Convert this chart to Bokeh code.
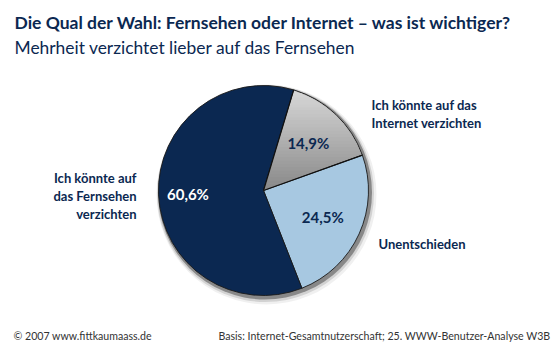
import numpy as np
from bokeh.plotting import figure
from bokeh.models import Range1d
from bokeh.core.properties import value
from bokeh.embed import file_html
from bokeh.resources import INLINE

# ---- data ----
categories = ["Ich könnte auf das Internet verzichten", "Unentschieden", "Ich könnte auf das Fernsehen verzichten"]
shares = [14.9, 24.5, 60.6]
pct_labels = ["14,9%", "24,5%", "60,6%"]
colors = ["#aaaaaa", "#a7c8e1", "#0b2851"]
pct_colors = ["#0b2851", "#0b2851", "#ffffff"]
title = "Die Qual der Wahl: Fernsehen oder Internet – was ist wichtiger?"
subtitle = "Mehrheit verzichtet lieber auf das Fernsehen"
footer_left = "© 2007 www.fittkaumaass.de"
footer_right = "Basis: Internet-Gesamtnutzerschaft; 25. WWW-Benutzer-Analyse W3B"

W, H = 560, 350
NAVY = "#0b2851"
FONT = value("Lato")

p = figure(width=W, height=H, output_backend="svg", toolbar_location=None,
           x_range=Range1d(0, W), y_range=Range1d(0, H), min_border=0)
p.axis.visible = False
p.grid.visible = False
p.outline_line_color = None
p.background_fill_color = "white"
p.border_fill_color = "white"

def Y(py):
    return H - py

cx, cy, r = 263, Y(190), 105
start_deg = 90 - 16.7  # start of first slice, clockwise

# shadow
for dr, dx, dy, a in [(5, 3, -4, 0.06), (3.5, 2, -3, 0.12), (2, 1.5, -2, 0.35)]:
    p.circle(x=[cx + dx], y=[cy + dy], radius=r + dr, radius_units="screen",
             fill_color="black", fill_alpha=a, line_color=None)

fr = np.array(shares) / sum(shares)
ends = start_deg - 360 * np.cumsum(fr)
starts = np.concatenate([[start_deg], ends[:-1]])
mids = (starts + ends) / 2

for i in range(3):
    p.wedge(x=[cx], y=[cy], radius=r, radius_units="screen",
            start_angle=[np.deg2rad(starts[i])], end_angle=[np.deg2rad(ends[i])],
            direction="clock", fill_color=colors[i], line_color="#1a1a1a", line_width=0.9)

# gray slice gradient: wedge polygon clipped into horizontal bands
ang = np.deg2rad(np.linspace(starts[0] - 0.3, ends[0] + 0.6, 60))
poly = [(cx, cy)] + [(cx + (r - 0.8) * np.cos(a), cy + (r - 0.8) * np.sin(a)) for a in ang]

def clip(poly, y0, y1):
    def clip_half(pts, yl, keep_above):
        out = []
        n = len(pts)
        for k in range(n):
            P, Q = pts[k], pts[(k + 1) % n]
            inP = (P[1] >= yl) if keep_above else (P[1] <= yl)
            inQ = (Q[1] >= yl) if keep_above else (Q[1] <= yl)
            if inP:
                out.append(P)
            if inP != inQ:
                t = (yl - P[1]) / (Q[1] - P[1])
                out.append((P[0] + t * (Q[0] - P[0]), yl))
        return out
    pts = clip_half(poly, y0, True)
    if pts:
        pts = clip_half(pts, y1, False)
    return pts

ys = [q[1] for q in poly]
ylo, yhi = min(ys), max(ys)
nb = 30
top_c, bot_c = np.array([0xd8, 0xd8, 0xd8]), np.array([0x88, 0x88, 0x88])
for b in range(nb):
    y0 = ylo + (yhi - ylo) * b / nb
    y1 = ylo + (yhi - ylo) * (b + 1) / nb + 0.6
    pts = clip(poly, y0, y1)
    if len(pts) < 3:
        continue
    t = (b + 0.5) / nb
    c = bot_c + (top_c - bot_c) * t
    col = "#%02x%02x%02x" % tuple(int(v) for v in c)
    p.patch(x=[q[0] for q in pts], y=[q[1] for q in pts], fill_color=col, line_color=None)

# dark shadow edges on gray slice
for a_deg in [starts[0], ends[0]]:
    a = np.deg2rad(a_deg)
    p.line(x=[cx, cx + r * np.cos(a)], y=[cy, cy + r * np.sin(a)], line_color="#111111", line_width=1.2)

# percentage labels
pr = [0.62, 0.62, 0.72]
px = [cx + pr[i] * r * np.cos(np.deg2rad(mids[i])) for i in range(3)]
py = [cy + pr[i] * r * np.sin(np.deg2rad(mids[i])) for i in range(3)]
for i in range(3):
    p.text(x=[px[i]], y=[py[i]], text=[pct_labels[i]], text_font=FONT, text_font_style="bold",
           text_font_size="15px", text_color=pct_colors[i], text_align="center", text_baseline="middle")

# category labels
p.text(x=[371, 371], y=[Y(104), Y(122)], text=["Ich könnte auf das", "Internet verzichten"],
       text_font=FONT, text_font_style="bold", text_font_size="13px", text_color=NAVY,
       text_align="left", text_baseline="middle")
p.text(x=[378], y=[Y(243)], text=[categories[1]],
       text_font=FONT, text_font_style="bold", text_font_size="13px", text_color=NAVY,
       text_align="left", text_baseline="middle")
p.text(x=[136, 136, 136], y=[Y(177), Y(195), Y(213)], text=["Ich könnte auf", "das Fernsehen", "verzichten"],
       text_font=FONT, text_font_style="bold", text_font_size="13px", text_color=NAVY,
       text_align="right", text_baseline="middle")

# titles
p.text(x=[14], y=[Y(22)], text=[title], text_font=FONT, text_font_style="bold",
       text_font_size="17.5px", text_color=NAVY, text_align="left", text_baseline="middle")
p.text(x=[14], y=[Y(47)], text=[subtitle], text_font=FONT,
       text_font_size="17.4px", text_color=NAVY, text_align="left", text_baseline="middle")

# footer
p.text(x=[13], y=[Y(335)], text=[footer_left], text_font=FONT,
       text_font_size="10.6px", text_color="#333333", text_align="left", text_baseline="middle")
p.text(x=[550], y=[Y(335)], text=[footer_right], text_font=FONT,
       text_font_size="10.6px", text_color="#333333", text_align="right", text_baseline="middle")

open("out.html", "w").write(file_html(p, INLINE))
